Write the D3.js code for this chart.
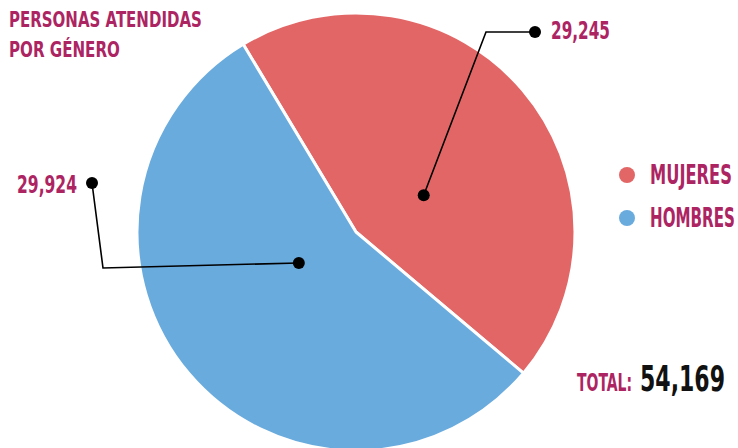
<!DOCTYPE html>
<html>
<head>
<meta charset="utf-8">
<script src="https://cdn.jsdelivr.net/npm/d3@7"></script>
<style>
  body { margin: 0; background: #fff; }
  text { font-family: "Liberation Sans Narrow", "DejaVu Sans Condensed", sans-serif; font-weight: bold; }
</style>
</head>
<body>
<div id="chart"></div>
<script>
// data
var categories = ["MUJERES", "HOMBRES"];
// slice sizes as drawn in the picture (hombres + mujeres = total)
var values = [24245, 29924];
// numbers printed next to the slices
var valueLabels = ["29,245", "29,924"];
var totalLabel = "54,169";
var titleLines = ["PERSONAS ATENDIDAS", "POR GÉNERO"];

var colors = ["#e36666", "#6aabde"];
var accent = "#ad2463";

var svgWidth = 738, svgHeight = 448;
var cx = 356, cy = 232, radius = 219;

var svg = d3.select("#chart").append("svg")
  .attr("width", svgWidth)
  .attr("height", svgHeight);

var rad = function(deg) { return deg * Math.PI / 180; };

// squeeze a text horizontally so it spans the given width (condensed look)
function addText(x, y, size, fill, width, str) {
  var t = svg.append("text")
    .attr("font-size", size)
    .attr("fill", fill)
    .text(str);
  var w = t.node().getComputedTextLength();
  t.attr("transform", "translate(" + x + "," + y + ") scale(" + (width / w) + ",1)");
  return t;
}

var pie = d3.pie().sort(null)
  .startAngle(rad(-31))
  .endAngle(rad(-31) + 2 * Math.PI)
  .value(function(d) { return d; });

var arcs = pie(values);
var arc = d3.arc().innerRadius(0).outerRadius(radius);

var pieGroup = svg.append("g").attr("transform", "translate(" + cx + "," + cy + ")");

pieGroup.selectAll("path")
  .data(arcs)
  .enter()
  .append("path")
  .attr("d", arc)
  .attr("fill", function(d, i) { return colors[i]; })
  .attr("stroke", "#fff")
  .attr("stroke-width", 3)
  .attr("stroke-linejoin", "round");

// leader lines: anchor inside slice, elbow, end dot
var leaders = [
  { off: 12, r: 77, elbow: [486, 32], end: [535, 32] },
  { off: 12, r: 65, elbow: [103, 268], end: [92, 183] }
];

arcs.forEach(function(a, i) {
  var mid = (a.startAngle + a.endAngle) / 2 + rad(leaders[i].off);
  var p = d3.pointRadial(mid, leaders[i].r);
  var inner = [cx + p[0], cy + p[1]];
  svg.append("path")
    .attr("d", d3.line()([inner, leaders[i].elbow, leaders[i].end]))
    .attr("fill", "none")
    .attr("stroke", "#000")
    .attr("stroke-width", 1.6);
  [inner, leaders[i].end].forEach(function(pt) {
    svg.append("circle").attr("cx", pt[0]).attr("cy", pt[1]).attr("r", 6).attr("fill", "#000");
  });
});

// value labels
addText(551, 39, 24, accent, 59, valueLabels[0]);
addText(17, 193, 25, accent, 60, valueLabels[1]);

// title
var titleWidths = [193, 111];
titleLines.forEach(function(line, i) {
  addText(9, 27 + i * 30, 21, accent, titleWidths[i], line);
});

// legend
var legendWidths = [82, 85];
categories.forEach(function(c, i) {
  var y = 175 + i * 43;
  svg.append("circle").attr("cx", 627).attr("cy", y).attr("r", 8).attr("fill", colors[i]);
  addText(650, y + 9, 26, accent, legendWidths[i], c);
});

// total
addText(577, 391, 25, accent, 55, "TOTAL:");
addText(640, 391, 36, "#111", 85, totalLabel);
</script>
</body>
</html>
